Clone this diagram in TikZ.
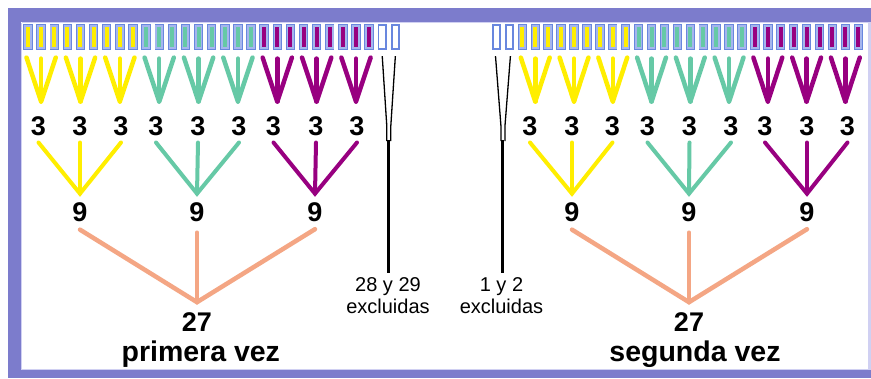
\documentclass[tikz,border=0pt]{standalone}
\usepackage{fontspec}
\setmainfont{Liberation Sans}
\usetikzlibrary{calc}
\definecolor{frame}{RGB}{124,124,204}
\definecolor{rim}{RGB}{208,208,242}
\definecolor{cellblue}{RGB}{105,135,222}
\definecolor{cellinner}{RGB}{165,182,238}
\definecolor{grp0}{RGB}{255,238,0}
\definecolor{grp1}{RGB}{102,201,166}
\definecolor{grp2}{RGB}{152,0,128}
\definecolor{salmon}{RGB}{244,166,132}

\begin{document}
\begin{tikzpicture}[x=1pt,y=-1pt,
  cell/.style={draw=cellblue,line width=1.9pt,fill=white,minimum width=7.5pt,
    minimum height=23.2pt,inner sep=0pt,outer sep=0pt},
  arm/.style={line width=4.5pt,line cap=round,line join=round},
  branch/.style={line width=4pt,line cap=round},
  exline/.style={black,line width=1.3pt},
  exstem/.style={black,line width=3pt},
  big/.style={font=\fontsize{27}{30}\selectfont\bfseries,inner sep=0pt,anchor=base},
  bigcap/.style={font=\fontsize{28.5}{32}\selectfont\bfseries,inner sep=0pt,anchor=base},
  exlabel/.style={font=\fontsize{20}{22.3}\selectfont,align=center,inner sep=0pt,anchor=north}]

\useasboundingbox (0,0) rectangle (871,378);

% frame
\fill[frame] (8,8) rectangle (871,378);
\fill[rim] (868,22) rectangle (871,370);
\fill[white] (21,22) rectangle (868,370);
\draw[rim,line width=1pt] (21.5,22.5) -- (21.5,369.5) -- (867.5,369.5);
\draw[rim,line width=1pt] (21.5,22.5) -- (867.5,22.5);

% cells, first pass (29 cells: 27 grouped, 28 and 29 excluded)
\foreach \i in {1,...,29}{
  \node[cell] (a\i) at ({28+(\i-1)*13.12},37) {};
  \pgfmathtruncatemacro\g{(\i-1)/9}
  \ifnum\g<3
    \fill[cellinner] ($(a\i.center)+(-3.75,-11.6)$) rectangle ($(a\i.center)+(3.75,11.6)$);
    \fill[color=grp\g] ($(a\i.center)+(-2,-10.4)$) rectangle ($(a\i.center)+(2,10.4)$);
  \fi
}
% cells, second pass (1 and 2 excluded)
\foreach \i in {1,...,29}{
  \node[cell] (b\i) at ({496.5+(\i-1)*12.92},37) {};
  \ifnum\i>2
    \pgfmathtruncatemacro\g{(\i-3)/9}
    \fill[cellinner] ($(b\i.center)+(-3.75,-11.6)$) rectangle ($(b\i.center)+(3.75,11.6)$);
    \fill[color=grp\g] ($(b\i.center)+(-2,-10.4)$) rectangle ($(b\i.center)+(2,10.4)$);
  \fi
}

% tridents joining three cells
\foreach \k in {0,...,8}{
  \pgfmathtruncatemacro\p{3*\k+1}
  \pgfmathtruncatemacro\m{3*\k+2}
  \pgfmathtruncatemacro\q{3*\k+3}
  \pgfmathtruncatemacro\g{\k/3}
  \draw[arm,color=grp\g] ($(a\p.south)+(-1.5,9)$) -- ($(a\m.south)+(0,53)$) -- ($(a\q.south)+(1.5,9)$);
  \draw[arm,color=grp\g] ($(a\m.south)+(0,10)$) -- ($(a\m.south)+(0,53)$);
}
\foreach \k in {0,...,8}{
  \pgfmathtruncatemacro\p{3*\k+3}
  \pgfmathtruncatemacro\m{3*\k+4}
  \pgfmathtruncatemacro\q{3*\k+5}
  \pgfmathtruncatemacro\g{\k/3}
  \draw[arm,color=grp\g] ($(b\p.south)+(-1.5,9)$) -- ($(b\m.south)+(0,53)$) -- ($(b\q.south)+(1.5,9)$);
  \draw[arm,color=grp\g] ($(b\m.south)+(0,10)$) -- ($(b\m.south)+(0,53)$);
}

% labels: threes
\foreach \x [count=\n] in {38.5,80,121,156,198,239,273.5,316,357}
  \node[big] (l\n) at (\x,135) {3};
\foreach \x [count=\n] in {530,572,612.5,647.5,689.5,731,765,807,847.5}
  \node[big] (r\n) at (\x,135) {3};
% nines
\foreach \x [count=\n] in {80,197,315}
  \node[big] (ln\n) at (\x,221.7) {9};
\foreach \x [count=\n] in {572,689,807}
  \node[big] (rn\n) at (\x,221.7) {9};
% totals and captions
\node[big] (lt) at (197,331.7) {27};
\node[big] (rt) at (689,331.7) {27};
\node[bigcap] (lcap) at (200.8,361.5) {primera vez};
\node[bigcap] (rcap) at (695,361.5) {segunda vez};
\node[exlabel] (lex) at (388,277.5) {28 y 29\\excluidas};
\node[exlabel] (rex) at (501.5,277.5) {1 y 2\\excluidas};

% threes into nines
\foreach \s in {l,r}{
  \foreach \j in {1,2,3}{
    \pgfmathtruncatemacro\g{\j-1}
    \pgfmathtruncatemacro\a{3*\j-2}
    \pgfmathtruncatemacro\b{3*\j-1}
    \pgfmathtruncatemacro\c{3*\j}
    \draw[branch,color=grp\g] ($(\s\a.south)+(0,7)$) -- ($(\s n\j.north)+(0,-9)$) -- ($(\s\c.south)+(0,7)$);
    \draw[branch,color=grp\g] ($(\s\b.south)+(0,7)$) -- ($(\s n\j.north)+(0,-9)$);
  }
}

% nines into the total
\foreach \s in {l,r}{
  \draw[branch,salmon,line width=4.5pt] ($(\s n1.south)+(0,7.5)$) -- ($(\s t.north)+(0,-10.5)$) -- ($(\s n3.south)+(0,7)$);
  \draw[branch,salmon,line width=4.5pt] ($(\s n2.south)+(0,10.5)$) -- ($(\s t.north)+(0,-10.5)$);
}

% excluded cells
\coordinate (lmid) at ($(a28.south)!0.5!(a29.south)$);
\draw[exline] ($(a28.south)+(0,7.5)$) -- ($(lmid)+(-2,77.5)$) -- ($(lmid)+(-2,92.5)$);
\draw[exline] ($(a29.south)+(0,7.5)$) -- ($(lmid)+(2,77.5)$) -- ($(lmid)+(2,92.5)$);
\draw[exstem] ($(lmid)+(0,91.5)$) -- ($(lmid |- lex.north)+(0,-4.5)$);

\coordinate (rmid) at ($(b1.south)!0.5!(b2.south)$);
\draw[exline] ($(b1.south)+(-1,7.5)$) -- ($(rmid)+(-2,77.5)$) -- ($(rmid)+(-2,92.5)$);
\draw[exline] ($(b2.south)+(1,7.5)$) -- ($(rmid)+(2,77.5)$) -- ($(rmid)+(2,92.5)$);
\draw[exstem] ($(rmid)+(0,91.5)$) -- ($(rmid |- rex.north)+(0,-4.5)$);
\end{tikzpicture}
\end{document}
